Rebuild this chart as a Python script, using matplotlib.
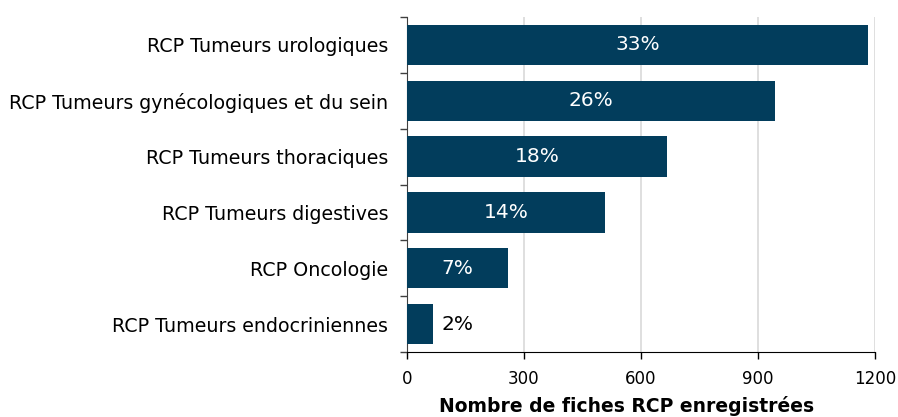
import matplotlib
matplotlib.use("Agg")
from matplotlib import pyplot as plt
import numpy as np

categories = [
    "RCP Tumeurs urologiques",
    "RCP Tumeurs gynécologiques et du sein",
    "RCP Tumeurs thoraciques",
    "RCP Tumeurs digestives",
    "RCP Oncologie",
    "RCP Tumeurs endocriniennes",
]
counts = [1181, 944, 667, 508, 259, 67]
percent_labels = ["33%", "26%", "18%", "14%", "7%", "2%"]
x_ticks = [0, 300, 600, 900, 1200]

bar_color = "#023d5c"

fig = plt.figure(figsize=(8.98, 4.17), dpi=100)
ax = fig.add_axes([0.4532, 0.1559, 0.5212, 0.8033])

y = np.arange(len(categories))
ax.barh(y, counts, height=0.72, color=bar_color, zorder=3)

for yi, val, lab in zip(y, counts, percent_labels):
    if val > 150:
        ax.text(val / 2, yi, lab, color="white", fontsize=14.5,
                ha="center", va="center", zorder=4)
    else:
        ax.text(val + 22, yi, lab, color="black", fontsize=14.5,
                ha="left", va="center", zorder=4)

ax.set_xlim(0, 1200)
ax.set_ylim(len(categories) - 0.5, -0.5)

ax.set_xticks(x_ticks)
ax.set_xticklabels([str(t) for t in x_ticks], fontsize=12)
ax.set_yticks(y)
ax.set_yticklabels(categories, fontsize=13.7)
ax.tick_params(axis="y", length=0, pad=13.5)
ax.set_yticks(np.arange(-0.5, len(categories)), minor=True)
ax.tick_params(axis="y", which="minor", length=5, color="#404040", width=1)
ax.tick_params(axis="x", length=5, width=1, color="black", pad=8)

ax.grid(axis="x", color="#d9d9d9", linewidth=1.2, zorder=0)
ax.set_axisbelow(True)

for s in ["top", "right"]:
    ax.spines[s].set_visible(False)
ax.spines["left"].set_color("#404040")
ax.spines["bottom"].set_color("black")

ax.set_xlabel("Nombre de fiches RCP enregistrées", fontsize=13.5, fontweight="bold")
ax.xaxis.set_label_coords(0.47, -0.13)

plt.savefig("out.png", dpi=100)
